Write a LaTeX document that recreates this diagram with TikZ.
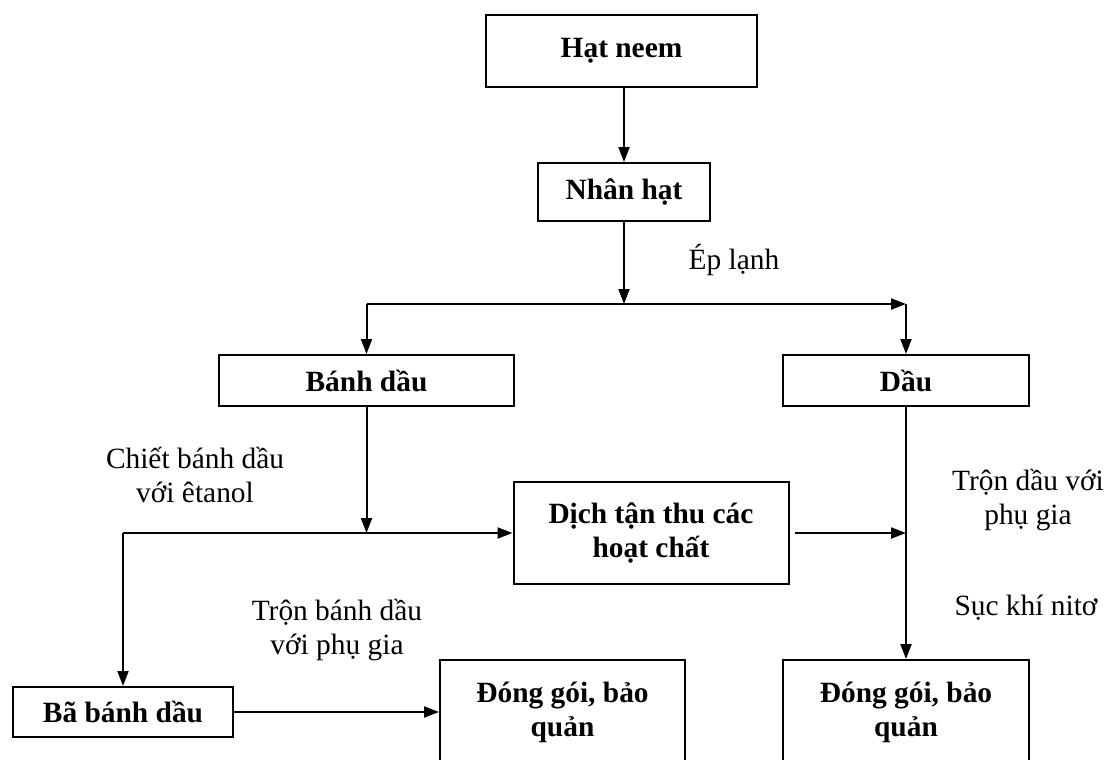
\documentclass[tikz,border=0pt]{standalone}
\usepackage{fontspec}
\setmainfont{Liberation Serif}
\usetikzlibrary{arrows.meta,positioning}

\begin{document}
\begin{tikzpicture}[
  x=0.5pt,y=-0.5pt,
  font=\fontsize{14.7}{17}\selectfont,
  box/.style={rectangle,draw,line width=1pt,align=center,inner sep=0pt,
              font=\fontsize{14.7}{17}\selectfont\bfseries},
  lbl/.style={align=center,inner sep=0pt},
  arr/.style={-{Triangle[length=7.5pt,width=5.5pt]},line width=1pt}
]
\useasboundingbox (0,0) rectangle (1105,760);
% main column
\node[box,minimum width=135.5pt,minimum height=36pt] (neem) at (621.5,51) {Hạt neem};
\node[box,minimum width=86pt,minimum height=29pt] (nhan) at (624,192) {Nhân hạt};
\node[box,minimum width=147.5pt,minimum height=25.5pt] (banh) at (366.5,380.5) {Bánh dầu};
\node[box,minimum width=123pt,minimum height=25.5pt] (dau) at (906,380.5) {Dầu};
\node[box,minimum width=137.5pt,minimum height=51pt] (dich) at (651,533) {Dịch tận thu các\\hoạt chất};
% bottom row
\node[box,minimum width=110pt,minimum height=25pt] (ba) at (123,712) {Bã bánh dầu};
\node[box,minimum width=122.5pt,minimum height=52pt] (dongb) at (562.5,712) {Đóng gói, bảo\\quản};
\node[box,minimum width=123pt,minimum height=52pt] (dongd) at (906,712) {Đóng gói, bảo\\quản};
% branch points
\coordinate (split) at (624,304);
\coordinate (sl) at (366.5,304);
\coordinate (sr) at (906,304);
\coordinate (jb) at (366.5,533);
\coordinate (jl) at (123,533);
% connectors
\draw[arr] (nhan.north |- neem.south) -- (nhan.north);
\draw[arr] (nhan) -- (split);
\draw[arr] (sl) -- (sr);
\draw[arr] (sl) -- (banh);
\draw[arr] (sr) -- (dau);
\draw[arr] (banh) -- (jb);
\draw[arr] (jl) -- (dich);
\draw[arr] (jl) -- (ba);
\draw[arr,shorten <=2.5pt] (dich) -- (dich -| dau);
\draw[arr] (dau) -- (dongd);
\draw[arr] (ba) -- (dongb);
% step labels
\node[lbl] (eplanh) at (734,260) {Ép lạnh};
\node[lbl] (chiet) at (195,475) {Chiết bánh dầu\\với êtanol};
\node[lbl] (tronbanh) at (337,630) {Trộn bánh dầu\\với phụ gia};
\node[lbl] (trondau) at (1028,500) {Trộn dầu với\\phụ gia};
\node[lbl] (suc) at (1026,608) {Sục khí nitơ};
\end{tikzpicture}
\end{document}
